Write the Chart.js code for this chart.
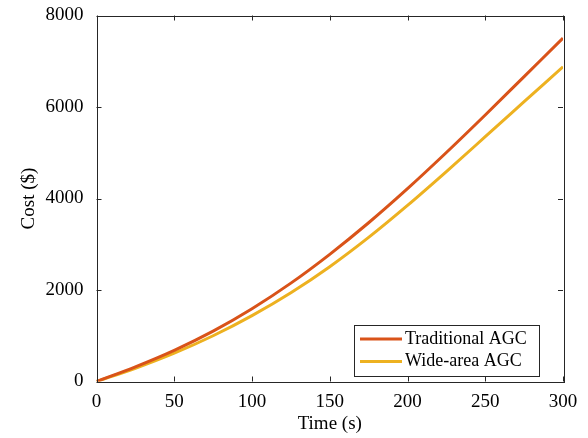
<!DOCTYPE html>
<html>
<head>
<meta charset="utf-8">
<script src="https://cdn.jsdelivr.net/npm/chart.js@4"></script>
<style>
  html, body { margin: 0; padding: 0; background: #fff; }
  #wrap { width: 588px; height: 438px; }
</style>
</head>
<body>
<div id="wrap"><canvas id="myChart" width="588" height="438"></canvas></div>
<script>
var timeS = [0, 25, 50, 75, 100, 125, 150, 175, 200, 225, 250, 275, 300];
var traditionalCost = [0, 320, 680, 1100, 1590, 2150, 2780, 3470, 4215, 5005, 5825, 6665, 7505];
var wideAreaCost = [0, 290, 620, 1000, 1440, 1940, 2510, 3150, 3850, 4590, 5350, 6115, 6880];
var xTicks = [0, 50, 100, 150, 200, 250, 300];
var yTicks = [0, 2000, 4000, 6000, 8000];

var serif = "'Liberation Serif', 'Times New Roman', serif";
var axisColor = '#262626';

function toPoints(xs, ys) {
    return xs.map(function (x, i) { return { x: x, y: ys[i] }; });
}

// box around the axes and inward ticks on all four sides (MATLAB style)
var boxPlugin = {
    id: 'boxPlugin',
    afterDraw: function (chart) {
        var c = chart.ctx, a = chart.chartArea;
        var xs = chart.scales.x, ys = chart.scales.y;
        var len = 5;
        c.save();
        c.strokeStyle = axisColor;
        c.lineWidth = 1;
        c.beginPath();
        xTicks.forEach(function (v) {
            var px = Math.round(xs.getPixelForValue(v)) + 0.5;
            c.moveTo(px, a.bottom); c.lineTo(px, a.bottom - len);
            c.moveTo(px, a.top); c.lineTo(px, a.top + len);
        });
        yTicks.forEach(function (v) {
            var py = Math.round(ys.getPixelForValue(v)) + 0.5;
            c.moveTo(a.left, py); c.lineTo(a.left + len, py);
            c.moveTo(a.right, py); c.lineTo(a.right - len, py);
        });
        c.stroke();
        c.strokeRect(Math.round(a.left) + 0.5, Math.round(a.top) + 0.5,
            Math.round(a.right - a.left), Math.round(a.bottom - a.top));
        c.restore();
    }
};

// legend box in the lower right corner of the axes
var legendPlugin = {
    id: 'legendPlugin',
    afterDraw: function (chart) {
        var c = chart.ctx, a = chart.chartArea;
        var w = 185, h = 51;
        var x0 = a.right - 24 - w, y0 = a.bottom - 6 - h;
        c.save();
        c.fillStyle = '#fff';
        c.fillRect(x0, y0, w, h);
        c.strokeStyle = axisColor;
        c.lineWidth = 1;
        c.strokeRect(Math.round(x0) + 0.5, Math.round(y0) + 0.5, w, h);
        c.font = '18px ' + serif;
        c.textBaseline = 'middle';
        c.fillStyle = '#000';
        chart.data.datasets.forEach(function (ds, i) {
            var cy = y0 + 14.5 + i * 22.5;
            c.strokeStyle = ds.borderColor;
            c.lineWidth = 3;
            c.beginPath();
            c.moveTo(x0 + 6, cy); c.lineTo(x0 + 48, cy);
            c.stroke();
            c.fillText(ds.label, x0 + 51, cy);
        });
        c.restore();
    }
};

function noPad(s) {
    s.paddingTop = 0; s.paddingBottom = 0; s.paddingLeft = 0; s.paddingRight = 0;
}

var ctx = document.getElementById('myChart').getContext('2d');
var myChart = new Chart(ctx, {
    type: 'line',
    data: {
        datasets: [{
            label: 'Traditional AGC',
            data: toPoints(timeS, traditionalCost),
            borderColor: '#D95319',
            borderWidth: 3,
            pointRadius: 0,
            cubicInterpolationMode: 'monotone'
        }, {
            label: 'Wide-area AGC',
            data: toPoints(timeS, wideAreaCost),
            borderColor: '#EDB120',
            borderWidth: 3,
            pointRadius: 0,
            cubicInterpolationMode: 'monotone'
        }]
    },
    options: {
        responsive: false,
        animation: false,
        layout: { padding: { left: 0, top: 15.5, right: 25, bottom: 0 } },
        scales: {
            x: {
                type: 'linear',
                min: 0,
                max: 300,
                afterBuildTicks: function (s) { s.ticks = xTicks.map(function (v) { return { value: v }; }); },
                afterFit: function (s) { s.height = 56.5; noPad(s); },
                ticks: { color: '#000', padding: 9, maxRotation: 0, font: { family: serif, size: 19 } },
                grid: { display: false, drawTicks: false },
                border: { display: false },
                title: { display: true, text: 'Time (s)', color: '#000', padding: { top: 0, bottom: 3 }, font: { family: serif, size: 19 } }
            },
            y: {
                min: 0,
                max: 8000,
                afterBuildTicks: function (s) { s.ticks = yTicks.map(function (v) { return { value: v }; }); },
                afterFit: function (s) { s.width = 96.5; noPad(s); },
                ticks: {
                    color: '#000', padding: 13, font: { family: serif, size: 19 },
                    callback: function (v) { return String(v); }
                },
                grid: { display: false, drawTicks: false },
                border: { display: false },
                title: { display: true, text: 'Cost ($)', color: '#000', padding: { top: 18, bottom: 0 }, font: { family: serif, size: 19 } }
            }
        },
        plugins: {
            legend: { display: false },
            tooltip: { enabled: false }
        }
    },
    plugins: [boxPlugin, legendPlugin]
});
</script>
</body>
</html>
